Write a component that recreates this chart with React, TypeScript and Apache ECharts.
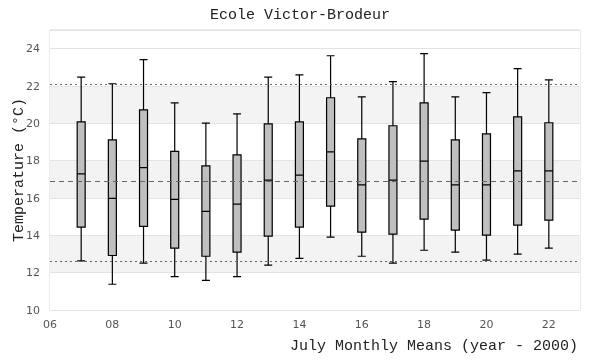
import React, { useEffect, useRef } from "react";
import * as echarts from "echarts";

const years = [7, 8, 9, 10, 11, 12, 13, 14, 15, 16, 17, 18, 19, 20, 21, 22];
const whiskerLow = [12.63, 11.38, 12.51, 11.79, 11.59, 11.79, 12.4, 12.77, 13.9, 12.88, 12.51, 13.2, 13.1, 12.67, 12.99, 13.31];
const q1 = [14.44, 12.92, 14.48, 13.31, 12.88, 13.1, 13.96, 14.44, 15.57, 14.17, 14.06, 14.87, 14.28, 14.01, 14.55, 14.82];
const median = [17.29, 15.98, 17.63, 15.93, 15.28, 15.67, 16.96, 17.23, 18.47, 16.7, 16.96, 17.98, 16.7, 16.7, 17.45, 17.45];
const q3 = [20.08, 19.11, 20.72, 18.5, 17.72, 18.31, 19.97, 20.08, 21.37, 19.17, 19.87, 21.1, 19.11, 19.43, 20.35, 20.03];
const whiskerHigh = [22.48, 22.12, 23.41, 21.1, 20.01, 20.51, 22.48, 22.6, 23.62, 21.42, 22.23, 23.73, 21.42, 21.64, 22.93, 22.33];

const overallMean = 16.91;
const upperLimit = 22.12;
const lowerLimit = 12.63;

const MONO = "Liberation Mono";
const SANS = "DejaVu Sans";

export default function App() {
  const ref = useRef<HTMLDivElement>(null);
  useEffect(() => {
    if (!ref.current) return;
    const chart = echarts.init(ref.current, undefined, { renderer: "svg" });
    const boxData = years.map((y, i) => [y, whiskerLow[i], q1[i], median[i], q3[i], whiskerHigh[i]]);
    chart.setOption({
      animation: false,
      title: {
        text: "Ecole Victor-Brodeur",
        left: "center",
        top: 3,
        textStyle: { fontFamily: MONO, fontSize: 15, fontWeight: "normal", color: "#222" },
      },
      grid: {
        left: 50,
        right: 20,
        top: 30,
        bottom: 50,
        outerBoundsMode: "none",
        containLabel: false,
        show: true,
        borderColor: "#d9d9d9",
        borderWidth: 1,
        backgroundColor: "transparent",
      },
      xAxis: {
        type: "value",
        min: 6,
        max: 23,
        interval: 2,
        name: "July Monthly Means (year - 2000)",
        nameLocation: "end",
        nameGap: 0,
        nameMoveOverlap: false,
        nameTextStyle: {
          fontFamily: MONO,
          fontSize: 15,
          color: "#222",
          align: "right",
          verticalAlign: "top",
          padding: [29, 2, 0, 0],
        },
        axisLine: { show: false },
        axisTick: { show: false },
        splitLine: { show: false },
        axisLabel: {
          fontFamily: SANS,
          fontSize: 11,
          color: "#555",
          margin: 9,
          showMaxLabel: false,
          formatter: (v: number) => (v < 10 ? "0" + v : String(v)),
        },
      },
      yAxis: {
        type: "value",
        min: 10,
        max: 25,
        interval: 2,
        name: "Temperature (°C)",
        nameLocation: "middle",
        nameGap: 23,
        nameMoveOverlap: false,
        nameTextStyle: { fontFamily: MONO, fontSize: 15, color: "#222" },
        axisLine: { show: false },
        axisTick: { show: false },
        axisLabel: {
          fontFamily: SANS,
          fontSize: 11,
          color: "#555",
          margin: 10,
          showMaxLabel: false,
        },
        splitLine: { show: true, lineStyle: { color: "#e3e3e3", width: 1 } },
        splitArea: {
          show: true,
          areaStyle: {
            color: ["#ffffff", "#f3f3f3", "#ffffff", "#f3f3f3", "#ffffff", "#f3f3f3", "#ffffff", "#ffffff"],
          },
        },
      },
      series: [
        {
          type: "line",
          data: [],
          silent: true,
          markLine: {
            silent: true,
            symbol: ["none", "none"],
            label: { show: false },
            data: [
              { yAxis: upperLimit, lineStyle: { type: [2, 3], color: "#666", width: 1 } },
              { yAxis: lowerLimit, lineStyle: { type: [2, 3], color: "#666", width: 1 } },
              { yAxis: overallMean, lineStyle: { type: [5, 4], color: "#666", width: 1 } },
            ],
          },
        },
        {
          type: "boxplot",
          data: boxData,
          boxWidth: [8, 8],
          itemStyle: { color: "#bfbfbf", borderColor: "#000", borderWidth: 1.2 },
          z: 3,
        },
      ],
    });
    return () => chart.dispose();
  }, []);
  return (
    <div
      ref={ref}
      style={{ position: "fixed", left: 0, top: 0, width: 600, height: 360 }}
    />
  );
}
